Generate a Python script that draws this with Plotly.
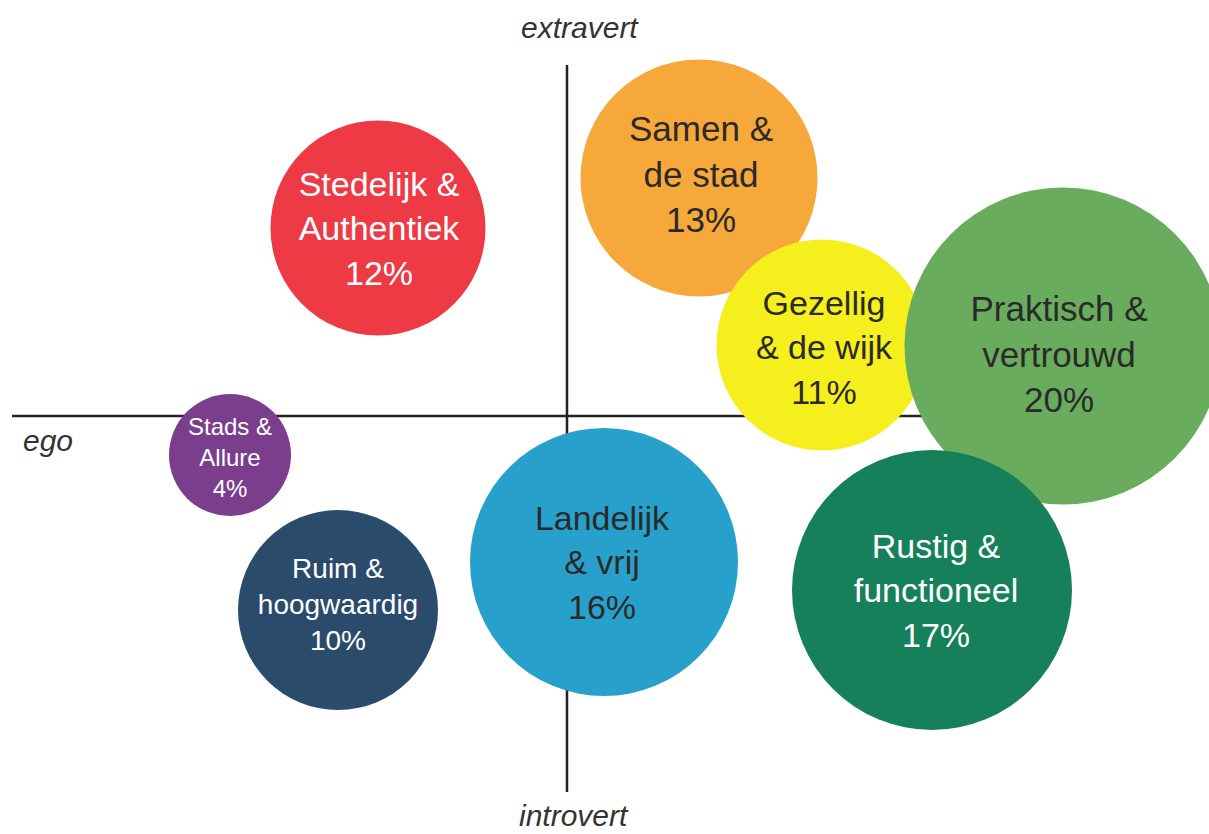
import plotly.graph_objects as go

# ---- data -------------------------------------------------------------
segments = ["Stedelijk &<br>Authentiek", "Samen &<br>de stad", "Gezellig<br>& de wijk",
            "Praktisch &<br>vertrouwd", "Stads &<br>Allure", "Ruim &<br>hoogwaardig",
            "Landelijk<br>& vrij", "Rustig &<br>functioneel"]
shares = [12, 13, 11, 20, 4, 10, 16, 17]
# position on the ego(-) / extravert(+) map, axis crossing at 0,0
ego_axis = [-189, 132, 255, 496, -337, -229, 37, 365]
extra_axis = [188, 238, 71, 70, -39, -194, -146, -174]
# text block centre
label_x = [-188, 134, 257, 492, -337, -229, 35, 369]
label_y = [184, 238, 65, 58, -44, -191, -150, -178]

# ---- styles -----------------------------------------------------------
diameters = [215, 237, 211, 317, 122, 200, 268, 280]
colors = ["#ee3a44", "#f6a83a", "#f6ef1e", "#69ac5e", "#7a3e8d", "#2b4b6d", "#27a1cb", "#15805a"]
text_colors = ["#ffffff", "#2a2a2a", "#2a2a2a", "#2a2a2a", "#ffffff", "#ffffff", "#2a2a2a", "#ffffff"]
text_sizes = [34, 35, 34, 35, 24, 28, 34, 34]
FONT = "Liberation Sans, Arial, sans-serif"

labels = [f"{s}<br>{p}%" for s, p in zip(segments, shares)]

fig = go.Figure()

fig.add_trace(go.Scatter(
    x=ego_axis, y=extra_axis, mode="markers",
    marker=dict(size=diameters, color=colors, opacity=1, line=dict(width=0)),
    hoverinfo="skip", showlegend=False,
))
fig.add_trace(go.Scatter(
    x=label_x, y=label_y, mode="text", text=labels,
    textposition="middle center",
    textfont=dict(family=FONT, size=text_sizes, color=text_colors),
    hoverinfo="skip", showlegend=False,
))

# axis cross
fig.add_shape(type="line", x0=0, x1=0, y0=351, y1=-376, layer="below",
              line=dict(color="#222222", width=2.5))
fig.add_shape(type="line", x0=-555, x1=430, y0=0, y1=0, layer="below",
              line=dict(color="#222222", width=2.5))

ann_font = dict(family=FONT, size=30, color="#333333", style="italic")
fig.add_annotation(x=13, y=389, text="extravert", showarrow=False, font=ann_font)
fig.add_annotation(x=7, y=-399, text="introvert", showarrow=False, font=ann_font)
fig.add_annotation(x=-519, y=-24, text="ego", showarrow=False, font=ann_font)

fig.update_xaxes(range=[-567, 642], visible=False, fixedrange=True)
fig.update_yaxes(range=[-418, 416], visible=False, fixedrange=True)
fig.update_layout(width=1209, height=834, margin=dict(l=0, r=0, t=0, b=0),
                  paper_bgcolor="white", plot_bgcolor="white")

fig.write_html("out.html", config={"displayModeBar": False},
               post_script="document.body.style.margin='0';")
